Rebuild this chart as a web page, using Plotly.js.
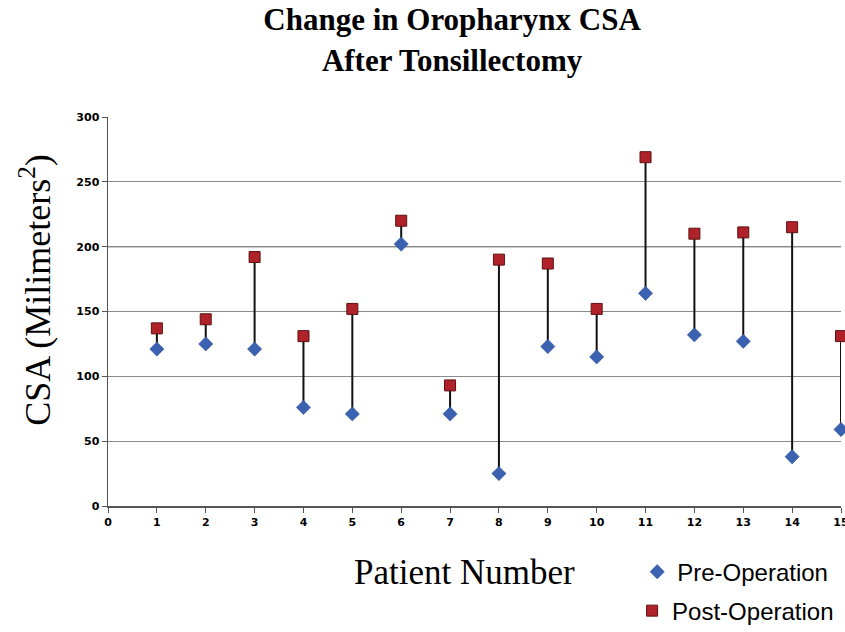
<!DOCTYPE html>
<html>
<head>
<meta charset="utf-8">
<script src="https://cdn.plot.ly/plotly-3.0.1.min.js"></script>
<style>html,body{margin:0;padding:0;background:#fff;}#chart{width:845px;height:632px;}</style>
</head>
<body>
<div id="chart"></div>
<script>
// Data
const patients = [1,2,3,4,5,6,7,8,9,10,11,12,13,14,15];
const preOperation  = [121,125,121,76,71,202,71,25,123,115,164,132,127,38,59];
const postOperation = [137,144,192,131,152,220,93,190,187,152,269,210,211,215,131];
const xTicks = [0,1,2,3,4,5,6,7,8,9,10,11,12,13,14,15];
const yTicks = [0,50,100,150,200,250,300];
const highlightLine = 200;

// connector segments between pre and post values
const segX = [], segY = [];
patients.forEach((p, i) => {
  segX.push(p, p, null);
  segY.push(preOperation[i], postOperation[i], null);
});

const serif = 'Liberation Serif, Times New Roman, serif';
const legendFont = {family: 'Liberation Sans, Arial, sans-serif', size: 24, color: '#000'};

const traces = [
  {x: segX, y: segY, mode: 'lines', type: 'scatter', showlegend: false, hoverinfo: 'skip',
   line: {color: '#111111', width: 2}, cliponaxis: false},
  {x: patients, y: preOperation, name: 'Pre-Operation', mode: 'markers', type: 'scatter', cliponaxis: false,
   legend: 'legend',
   marker: {symbol: 'diamond', size: 11, color: '#3b62b0', line: {color: '#2f4f96', width: 0.5}}},
  {x: patients, y: postOperation, name: 'Post-Operation', mode: 'markers', type: 'scatter', cliponaxis: false,
   legend: 'legend2',
   marker: {symbol: 'square', size: 11, color: '#b0222a', line: {color: '#5e1010', width: 1}}}
];

const layout = {
  width: 845, height: 632,
  paper_bgcolor: '#ffffff', plot_bgcolor: '#ffffff',
  margin: {l: 108, r: 4, t: 117, b: 126, autoexpand: false},
  showlegend: true,
  title: {
    text: '<b>Change in Oropharynx CSA</b><br><b>After Tonsillectomy</b>',
    font: {family: serif, size: 31, color: '#000'},
    x: 0.535, xanchor: 'center', xref: 'container',
    y: 0.952, yanchor: 'top', yref: 'container'
  },
  xaxis: {
    range: [0, 15], tickvals: xTicks, ticktext: xTicks.map(String),
    showgrid: false, zeroline: false,
    showline: true, linecolor: '#555', linewidth: 1.5,
    ticks: 'outside', ticklen: 5, tickcolor: '#555',
    ticklabeloverflow: 'allow',
    tickfont: {family: 'DejaVu Sans, Verdana, sans-serif', size: 11, color: '#000', weight: 'bold'},
    fixedrange: true
  },
  yaxis: {
    range: [0, 300], tickvals: yTicks, ticktext: yTicks.map(String),
    showgrid: true, gridcolor: '#8a8a8a', gridwidth: 1, zeroline: false,
    showline: true, linecolor: '#555', linewidth: 1.5,
    ticks: 'outside', ticklen: 5, tickcolor: '#555',
    tickfont: {family: 'DejaVu Sans, Verdana, sans-serif', size: 11, color: '#000', weight: 'bold'},
    fixedrange: true
  },
  annotations: [
    {text: 'Patient Number', xref: 'paper', yref: 'paper', x: 0.487, y: -0.17,
     xanchor: 'center', yanchor: 'middle', showarrow: false,
     font: {family: serif, size: 35, color: '#000'}},
    {text: 'CSA (Milimeters<sup>2</sup>)', xref: 'paper', yref: 'paper', x: -0.10, y: 0.555,
     xanchor: 'center', yanchor: 'middle', showarrow: false, textangle: -90,
     font: {family: serif, size: 36, color: '#000'}}
  ],
  shapes: [
    {type: 'line', xref: 'paper', yref: 'y', x0: 0, x1: 1, y0: highlightLine, y1: highlightLine,
     line: {color: '#333', width: 1.3}, layer: 'below'}
  ],
  legend: {
    x: 0.722, xanchor: 'left', y: -0.17, yanchor: 'middle',
    font: legendFont, itemwidth: 30, bgcolor: 'rgba(0,0,0,0)'
  },
  legend2: {
    x: 0.715, xanchor: 'left', y: -0.27, yanchor: 'middle',
    font: legendFont, itemwidth: 30, bgcolor: 'rgba(0,0,0,0)'
  }
};

Plotly.newPlot('chart', traces, layout, {displayModeBar: false, staticPlot: true});
</script>
</body>
</html>
